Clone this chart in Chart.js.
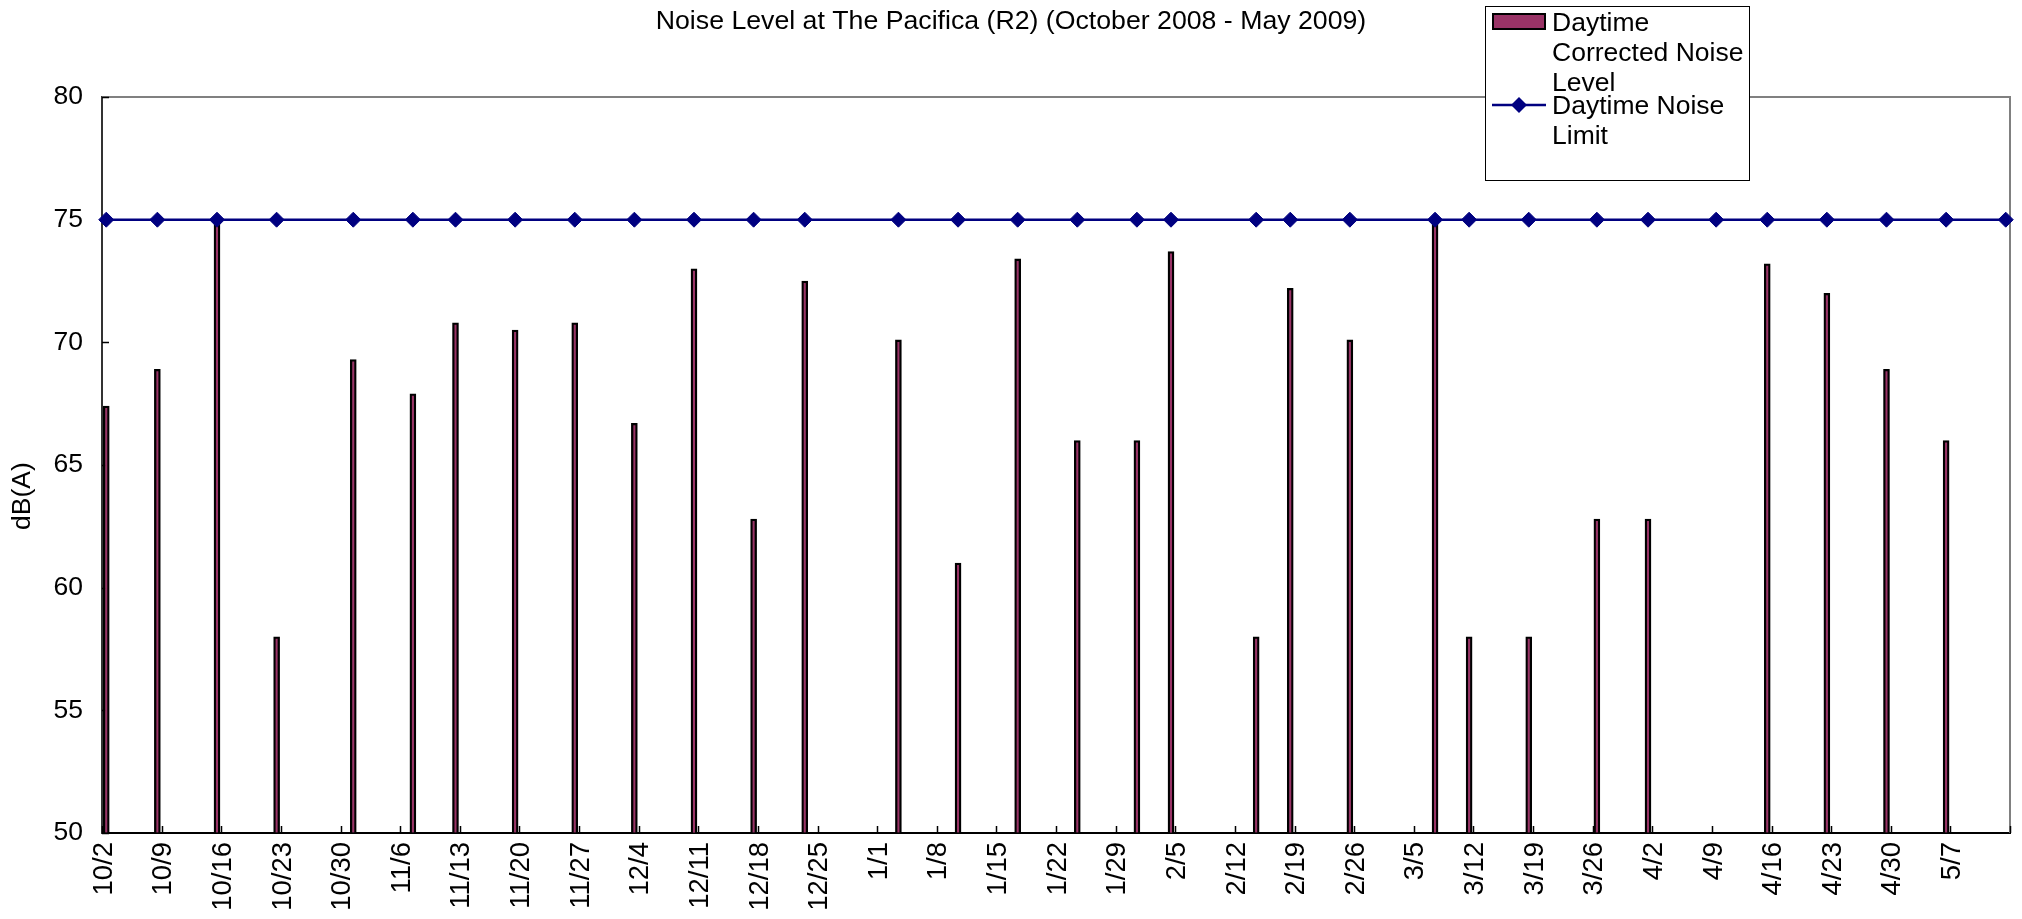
<!DOCTYPE html>
<html>
<head>
<meta charset="utf-8">
<script src="https://cdn.jsdelivr.net/npm/chart.js@4.4.1/dist/chart.umd.min.js"></script>
<style>
html,body{margin:0;padding:0;background:#fff;}
canvas{display:block;}
</style>
</head>
<body>
<canvas id="c" width="2022" height="919" style="width:2022px;height:919px"></canvas>
<script>
// ---- data ----
const axisStart = "2008-10-02";
const axisEnd = "2009-05-13";
const tickLabels = ["10/2","10/9","10/16","10/23","10/30","11/6","11/13","11/20","11/27","12/4","12/11","12/18","12/25","1/1","1/8","1/15","1/22","1/29","2/5","2/12","2/19","2/26","3/5","3/12","3/19","3/26","4/2","4/9","4/16","4/23","4/30","5/7"];
const barDates = ["2008-10-02","2008-10-08","2008-10-15","2008-10-22","2008-10-31","2008-11-07","2008-11-12","2008-11-19","2008-11-26","2008-12-03","2008-12-10","2008-12-17","2008-12-23","2009-01-03","2009-01-10","2009-01-17","2009-01-24","2009-01-31","2009-02-04","2009-02-14","2009-02-18","2009-02-25","2009-03-07","2009-03-11","2009-03-18","2009-03-26","2009-04-01","2009-04-15","2009-04-22","2009-04-29","2009-05-06"];
const correctedNoise = [67.4,68.9,75,58,69.3,67.9,70.8,70.5,70.8,66.7,73,62.8,72.5,70.1,61,73.4,66,66,73.7,58,72.2,70.1,75,58,58,62.8,62.8,73.2,72,68.9,66];
const limitDates = ["2008-10-02","2008-10-08","2008-10-15","2008-10-22","2008-10-31","2008-11-07","2008-11-12","2008-11-19","2008-11-26","2008-12-03","2008-12-10","2008-12-17","2008-12-23","2009-01-03","2009-01-10","2009-01-17","2009-01-24","2009-01-31","2009-02-04","2009-02-14","2009-02-18","2009-02-25","2009-03-07","2009-03-11","2009-03-18","2009-03-26","2009-04-01","2009-04-09","2009-04-15","2009-04-22","2009-04-29","2009-05-06","2009-05-13"];
const noiseLimit = [75,75,75,75,75,75,75,75,75,75,75,75,75,75,75,75,75,75,75,75,75,75,75,75,75,75,75,75,75,75,75,75,75];
const seriesNames = ["Daytime Corrected Noise Level","Daytime Noise Limit"];
const legendLines = [["Daytime","Corrected Noise","Level"],["Daytime Noise","Limit"]];
const titleText = "Noise Level at The Pacifica (R2) (October 2008 - May 2009)";
const yTitle = "dB(A)";

// ---- helpers ----
const DAY = 86400000;
function dayIndex(s){ const [y,m,d]=s.split('-').map(Number); const [y0,m0,d0]=axisStart.split('-').map(Number); return Math.round((Date.UTC(y,m-1,d)-Date.UTC(y0,m0-1,d0))/DAY); }
const lastDay = dayIndex(axisEnd);
const FONT = "'Liberation Sans', Arial, Helvetica, sans-serif";

const framePlugin = {
  id:'frame',
  beforeDatasetsDraw(chart){
    const {ctx, chartArea:a, scales:{x,y}} = chart;
    ctx.save();
    ctx.strokeStyle = '#808080'; ctx.lineWidth = 2;
    ctx.beginPath();
    ctx.moveTo(a.left, a.top); ctx.lineTo(a.right, a.top); ctx.lineTo(a.right, a.bottom);
    ctx.stroke();
    // inside tick marks
    ctx.strokeStyle = '#000'; ctx.lineWidth = 1.5;
    ctx.beginPath();
    for (let i=0;i<=Math.floor((lastDay+1)/7);i++){
      const px = Math.round(x.getPixelForValue(i*7-0.5))+0.5;
      ctx.moveTo(px, a.bottom); ctx.lineTo(px, a.bottom-7);
    }
    for (let v=50; v<=80; v+=5){
      const py = Math.round(y.getPixelForValue(v))+0.5;
      ctx.moveTo(a.left, py); ctx.lineTo(a.left+7, py);
    }
    ctx.stroke();
    // y axis title
    ctx.fillStyle='#000'; ctx.font = "26.5px " + FONT; ctx.textAlign='center'; ctx.textBaseline='middle';
    ctx.translate(23, (a.top+a.bottom)/2 + 31);
    ctx.rotate(-Math.PI/2);
    ctx.fillText(yTitle, 0, 0);
    ctx.restore();
  }
};

const legendPlugin = {
  id:'boxLegend',
  afterDraw(chart){
    const {ctx} = chart;
    const bx=1485, by=6, bw=264, bh=174;
    const bar = chart.data.datasets[1], line = chart.data.datasets[0];
    ctx.save();
    ctx.fillStyle='#fff'; ctx.fillRect(bx,by,bw,bh);
    ctx.strokeStyle='#000'; ctx.lineWidth=1; ctx.strokeRect(bx+0.5,by+0.5,bw,bh);
    // bar swatch
    ctx.fillStyle = bar.backgroundColor; ctx.fillRect(1492,13,54,17);
    ctx.strokeStyle = bar.borderColor; ctx.lineWidth=2; ctx.strokeRect(1493,14,52,15);
    // line swatch
    ctx.strokeStyle=line.borderColor; ctx.lineWidth=2.5;
    ctx.beginPath(); ctx.moveTo(1492,105); ctx.lineTo(1546,105); ctx.stroke();
    ctx.fillStyle=line.backgroundColor;
    ctx.beginPath(); ctx.moveTo(1519,97); ctx.lineTo(1527,105); ctx.lineTo(1519,113); ctx.lineTo(1511,105); ctx.closePath(); ctx.fill();
    // text
    ctx.fillStyle='#000'; ctx.font = "26.5px " + FONT; ctx.textBaseline='alphabetic'; ctx.textAlign='left';
    const base1=[31,61,91], base2=[114,144];
    legendLines[0].forEach((t,i)=>ctx.fillText(t,1552,base1[i]));
    legendLines[1].forEach((t,i)=>ctx.fillText(t,1552,base2[i]));
    ctx.restore();
  }
};

new Chart(document.getElementById('c'), {
  data:{
    datasets:[
      {
        type:'line', label:seriesNames[1], order:1,
        data: limitDates.map((d,i)=>({x:dayIndex(d), y:noiseLimit[i]})),
        borderColor:'#000080', backgroundColor:'#000080', borderWidth:2.5,
        pointStyle:'rectRot', pointRadius:7.5, pointBorderWidth:1, pointBackgroundColor:'#000080', pointBorderColor:'#000080',
        tension:0, clip:false
      },
      {
        type:'bar', label:seriesNames[0], order:2,
        data: barDates.map((d,i)=>({x:dayIndex(d), y:correctedNoise[i]})),
        backgroundColor:'#993366', borderColor:'#000000', borderWidth:2.3, barThickness:6, base:50
      }
    ]
  },
  options:{
    responsive:false, animation:false, devicePixelRatio:1,
    layout:{padding:{left:12,right:12,top:0,bottom:0}},
    plugins:{
      legend:{display:false}, tooltip:{enabled:false},
      title:{display:true, text:titleText, color:'#000', font:{family:FONT,size:26.7,weight:'normal'}, padding:{top:6,bottom:59}}
    },
    scales:{
      x:{
        type:'linear', min:-0.5, max:lastDay+0.5, offset:false,
        grid:{display:true, drawOnChartArea:false, drawTicks:false, offset:false},
        border:{display:true, color:'#000', width:2},
        afterBuildTicks:(s)=>{ s.ticks = tickLabels.map((t,i)=>({value:i*7-0.25})); },
        ticks:{autoSkip:false, maxRotation:90, minRotation:90, padding:9, color:'#000', font:{family:FONT,size:27.5}, callback:(v,i)=>tickLabels[i]},
        afterFit:(s)=>{ s.height = 86; }
      },
      y:{
        type:'linear', min:50, max:80,
        grid:{display:true, drawOnChartArea:false, drawTicks:false},
        border:{display:true, color:'#333', width:2},
        ticks:{stepSize:5, padding:19, color:'#000', font:{family:FONT,size:26.5}},
        title:{display:false},
        afterFit:(s)=>{ s.width = 90; }
      }
    }
  },
  plugins:[framePlugin, legendPlugin]
});
</script>
</body>
</html>
